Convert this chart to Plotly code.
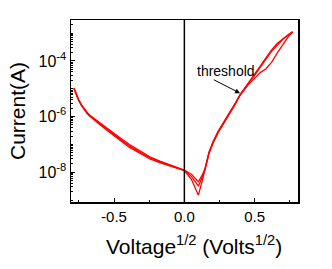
import plotly.graph_objects as go

# sqrt(V) sample positions
voltage_sqrt = [-0.785, -0.77, -0.75, -0.73, -0.71, -0.69, -0.67, -0.64, -0.60, -0.53,
                -0.46, -0.39, -0.32, -0.245, -0.17, -0.10, 0.0, 0.05, 0.10, 0.125,
                0.147, 0.175, 0.206, 0.24, 0.277, 0.32, 0.36, 0.396, 0.43, 0.455,
                0.50, 0.54, 0.58, 0.62, 0.66, 0.70, 0.74, 0.77]

current_sweep1 = [1.05e-5, 6.6e-6, 3.8e-6, 2.5e-6, 1.74e-6, 1.32e-6, 1.05e-6, 7.9e-7, 5.6e-7, 3.0e-7,
                  1.58e-7, 8.7e-8, 5.4e-8, 3.3e-8, 2.3e-8, 1.74e-8, 1.17e-8, 7.1e-9, 3.16e-9, 6.3e-9,
                  1.26e-8, 5.0e-8, 1.26e-7, 2.8e-7, 5.6e-7, 1.26e-6, 2.8e-6, 6.0e-6, 1.05e-5, 1.58e-5,
                  3.3e-5, 6.3e-5, 1.32e-4, 2.5e-4, 4.2e-4, 6.3e-4, 8.9e-4, 1.12e-3]

current_sweep2 = [1.05e-5, 6.8e-6, 3.9e-6, 2.6e-6, 1.8e-6, 1.38e-6, 1.1e-6, 8.4e-7, 6.0e-7, 3.3e-7,
                  1.76e-7, 9.8e-8, 6.0e-8, 3.6e-8, 2.45e-8, 1.8e-8, 1.2e-8, 8.5e-9, 4.6e-9, 7.5e-9,
                  1.35e-8, 5.3e-8, 1.33e-7, 2.95e-7, 5.9e-7, 1.3e-6, 2.9e-6, 6.2e-6, 1.08e-5, 1.55e-5,
                  3.0e-5, 5.6e-5, 1.15e-4, 2.2e-4, 3.8e-4, 6.0e-4, 8.7e-4, 1.12e-3]

current_sweep3 = [1.0e-5, 6.3e-6, 3.65e-6, 2.4e-6, 1.66e-6, 1.26e-6, 1.0e-6, 7.4e-7, 5.1e-7, 2.7e-7,
                  1.42e-7, 7.8e-8, 4.9e-8, 3.0e-8, 2.15e-8, 1.68e-8, 1.15e-8, 5.6e-9, 1.5e-9, 4.5e-9,
                  1.15e-8, 4.7e-8, 1.18e-7, 2.65e-7, 5.3e-7, 1.2e-6, 2.65e-6, 5.8e-6, 1.0e-5, 1.4e-5,
                  2.4e-5, 3.8e-5, 5.25e-5, 8.9e-5, 1.9e-4, 4.0e-4, 7.6e-4, 1.07e-3]

x_tick_vals = [-0.5, 0.0, 0.5]
x_tick_text = ["-0.5", "0.0", "0.5"]
y_tick_vals = [1e-8, 1e-6, 1e-4]
y_tick_text = ["10<sup>-8</sup>", "10<sup>-6</sup>", "10<sup>-4</sup>"]

FONT = "Liberation Sans, Arial, sans-serif"

fig = go.Figure()
for ys in (current_sweep1, current_sweep2, current_sweep3):
    fig.add_trace(go.Scatter(x=voltage_sqrt, y=ys, mode="lines",
                             line=dict(color="#ff0000", width=1.3),
                             showlegend=False, hoverinfo="skip"))

fig.add_shape(type="line", xref="x", yref="paper", x0=0, x1=0, y0=0, y1=1,
              line=dict(color="black", width=1.5))

fig.add_annotation(x=0.298, y=-4.36, xref="x", yref="y", text="threshold",
                   showarrow=False, font=dict(family=FONT, size=14, color="black"))
fig.add_annotation(x=0.396, y=-5.16, ax=0.199, ay=-4.65, xref="x", yref="y",
                   axref="x", ayref="y", text="", showarrow=True,
                   arrowhead=2, arrowsize=1, arrowwidth=1, arrowcolor="black",
                   standoff=0, startstandoff=0)

fig.add_annotation(x=-0.238, y=0.5, xref="paper", yref="paper",
                   text="Current(A)", textangle=-90, showarrow=False,
                   xanchor="center", yanchor="middle",
                   font=dict(family=FONT, size=21, color="black"))
fig.add_annotation(x=0.54, y=-0.236, xref="paper", yref="paper",
                   text="Voltage<sup>1/2</sup> (Volts<sup>1/2</sup>)", showarrow=False,
                   xanchor="center", yanchor="middle",
                   font=dict(family=FONT, size=21, color="black"))

fig.update_layout(
    width=332, height=269,
    margin=dict(l=71, r=34, t=20, b=67),
    paper_bgcolor="white", plot_bgcolor="white",
    font=dict(family=FONT, size=15, color="black"),
    hovermode=False,
    xaxis=dict(range=[-0.806, 0.808], tickmode="array", tickvals=x_tick_vals,
               ticktext=x_tick_text, ticks="inside", ticklen=4, tickwidth=1,
               tickcolor="black", showline=True, linecolor="black", linewidth=1.5,
               mirror=True, showgrid=False, zeroline=False,
               minor=dict(ticks="inside", ticklen=2, dtick=0.25, tick0=0.25,
                          tickcolor="black", showgrid=False),
               tickfont=dict(family=FONT, size=15)),
    yaxis=dict(type="log", range=[-9.07, -2.53], tickmode="array",
               tickvals=y_tick_vals, ticktext=y_tick_text, ticks="inside",
               ticklen=4, tickwidth=1, tickcolor="black", showline=True,
               linecolor="black", linewidth=1.5, mirror=True, showgrid=False,
               zeroline=False,
               minor=dict(ticks="inside", ticklen=2, dtick="D1",
                          tickcolor="black", showgrid=False),
               tickfont=dict(family=FONT, size=16)),
)

fig.write_html("out.html", config={"displayModeBar": False, "staticPlot": True},
               post_script="document.body.style.margin='0px';")
